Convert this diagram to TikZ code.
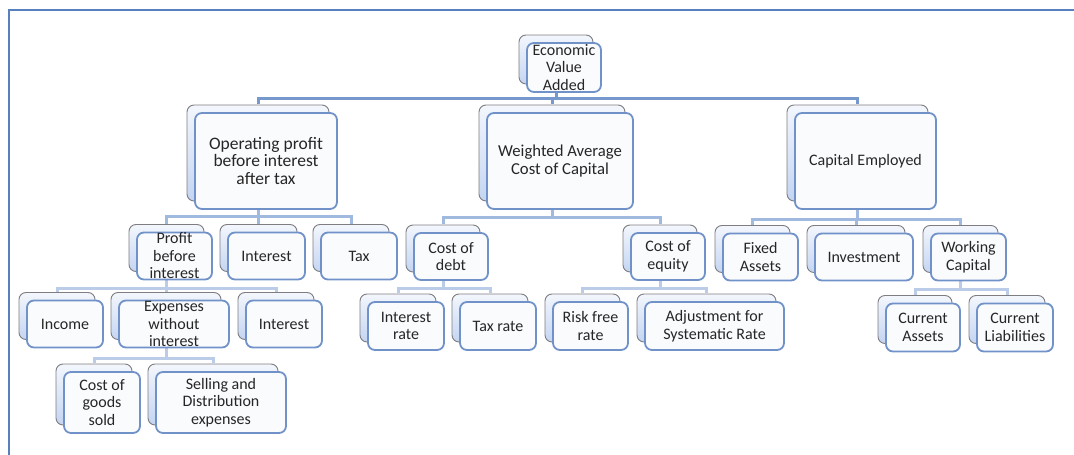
\documentclass[tikz,border=0pt]{standalone}
\usepackage{fontspec}
\setmainfont{Carlito}
\usetikzlibrary{shadows, backgrounds}
\definecolor{cardline}{RGB}{112,146,200}
\definecolor{cardfill}{RGB}{250,251,253}
\definecolor{backfill}{RGB}{196,213,242}
\definecolor{backline}{RGB}{125,125,130}
\definecolor{linktop}{RGB}{118,152,204}
\definecolor{linkmid}{RGB}{160,185,222}
\definecolor{linklow}{RGB}{186,204,232}
\definecolor{textgray}{RGB}{38,38,38}
\definecolor{framecol}{RGB}{88,128,190}
\tikzset{
  card/.style={rectangle, rounded corners=7pt, draw=cardline, line width=1.8pt,
    fill=cardfill, align=center, inner sep=0pt, text=textgray,
    font=\fontsize{16}{17.5}\selectfont,
    copy shadow={shadow xshift=-8pt, shadow yshift=8pt, draw=backline,
      line width=0.9pt, top color=white!80!backfill, bottom color=backfill}},
  link/.style={line width=3pt, linklow},
}

\begin{document}
\begin{tikzpicture}[x=1pt, y=-1pt]
		\useasboundingbox (0,0) rectangle (1074,455);
		\draw[framecol, line width=2.5pt] (9,455) -- (9,10) -- (1074,10);

		% top
		\node[card, minimum width=74, minimum height=49] (eva) at (564,67.5) {Economic\\Value\\Added};

		% level 1
		\node[card, minimum width=142, minimum height=96, font=\fontsize{17.5}{17.5}\selectfont] (opbit) at (266,161) {Operating profit\\before interest\\after tax};
		\node[card, minimum width=146, minimum height=96, font=\fontsize{16.7}{18}\selectfont] (wacc) at (560,161) {Weighted Average\\Cost of Capital};
		\node[card, minimum width=141, minimum height=96] (capemp) at (865.5,161) {Capital Employed};

		% level 2
		\node[card, minimum width=75, minimum height=47] (pbi) at (174.5,256) {Profit\\before\\interest};
		\node[card, minimum width=77, minimum height=47] (intop) at (266.5,256) {Interest};
		\node[card, minimum width=76, minimum height=47] (taxop) at (359,256) {Tax};
		\node[card, minimum width=74, minimum height=47] (cdebt) at (451,256.5) {Cost of\\debt};
		\node[card, minimum width=74, minimum height=47] (cequity) at (668,256.5) {Cost of\\equity};
		\node[card, minimum width=75, minimum height=47] (fixed) at (760.5,257) {Fixed\\Assets};
		\node[card, minimum width=98, minimum height=47] (invest) at (864,257) {Investment};
		\node[card, minimum width=75, minimum height=47] (workcap) at (968.5,257) {Working\\Capital};

		% level 3
		\node[card, minimum width=76, minimum height=47] (income) at (65,324) {Income};
		\node[card, minimum width=110, minimum height=47] (expense) at (174,324) {Expenses\\without\\interest};
		\node[card, minimum width=76, minimum height=47] (intpbi) at (284,324) {Interest};
		\node[card, minimum width=76, minimum height=48] (intrate) at (406,326) {Interest\\rate};
		\node[card, minimum width=76, minimum height=48] (taxrate) at (498,326) {Tax rate};
		\node[card, minimum width=75, minimum height=48] (riskfree) at (590.5,326) {Risk free\\rate};
		\node[card, minimum width=139, minimum height=48] (adjust) at (714.5,326) {Adjustment for\\Systematic Rate};
		\node[card, minimum width=74, minimum height=48] (curassets) at (923,327.5) {Current\\Assets};
		\node[card, minimum width=76, minimum height=48] (curliab) at (1015,327.5) {Current\\Liabilities};

		% level 4
		\node[card, minimum width=76, minimum height=61] (cogs) at (102,402.5) {Cost of\\goods\\sold};
		\node[card, minimum width=130, minimum height=61] (selling) at (221,402.5) {Selling and\\Distribution\\expenses};

		% links
		\begin{scope}[on background layer]
		\foreach \kid in {opbit, wacc, capemp}
			\draw[link, linktop] ([xshift=-8pt]eva.south) -- ++(0,6) -| ([shift={(-8pt,8pt)}]\kid.north);
		\foreach \kid in {pbi, intop, taxop}
			\draw[link, linkmid] ([xshift=-8pt]opbit.south) -- ++(0,7) -| ([shift={(-8pt,8pt)}]\kid.north);
		\foreach \kid in {cdebt, cequity}
			\draw[link, linkmid] ([xshift=-8pt]wacc.south) -- ++(0,8) -| ([shift={(-8pt,8pt)}]\kid.north);
		\foreach \kid in {fixed, invest, workcap}
			\draw[link, linkmid] ([xshift=-8pt]capemp.south) -- ++(0,10) -| ([shift={(-8pt,8pt)}]\kid.north);
		\foreach \kid in {income, expense, intpbi}
			\draw[link] ([xshift=-8pt]pbi.south) -- ++(0,8) -| ([shift={(-8pt,8pt)}]\kid.north);
		\foreach \kid in {intrate, taxrate}
			\draw[link] ([xshift=-8pt]cdebt.south) -- ++(0,8) -| ([shift={(-8pt,8pt)}]\kid.north);
		\foreach \kid in {riskfree, adjust}
			\draw[link] ([xshift=-8pt]cequity.south) -- ++(0,8) -| ([shift={(-8pt,8pt)}]\kid.north);
		\foreach \kid in {curassets, curliab}
			\draw[link] ([xshift=-8pt]workcap.south) -- ++(0,8) -| ([shift={(-8pt,8pt)}]\kid.north);
		\foreach \kid in {cogs, selling}
			\draw[link] ([xshift=-8pt]expense.south) -- ++(0,10) -| ([shift={(-8pt,8pt)}]\kid.north);
		\end{scope}

	\end{tikzpicture}
\end{document}
